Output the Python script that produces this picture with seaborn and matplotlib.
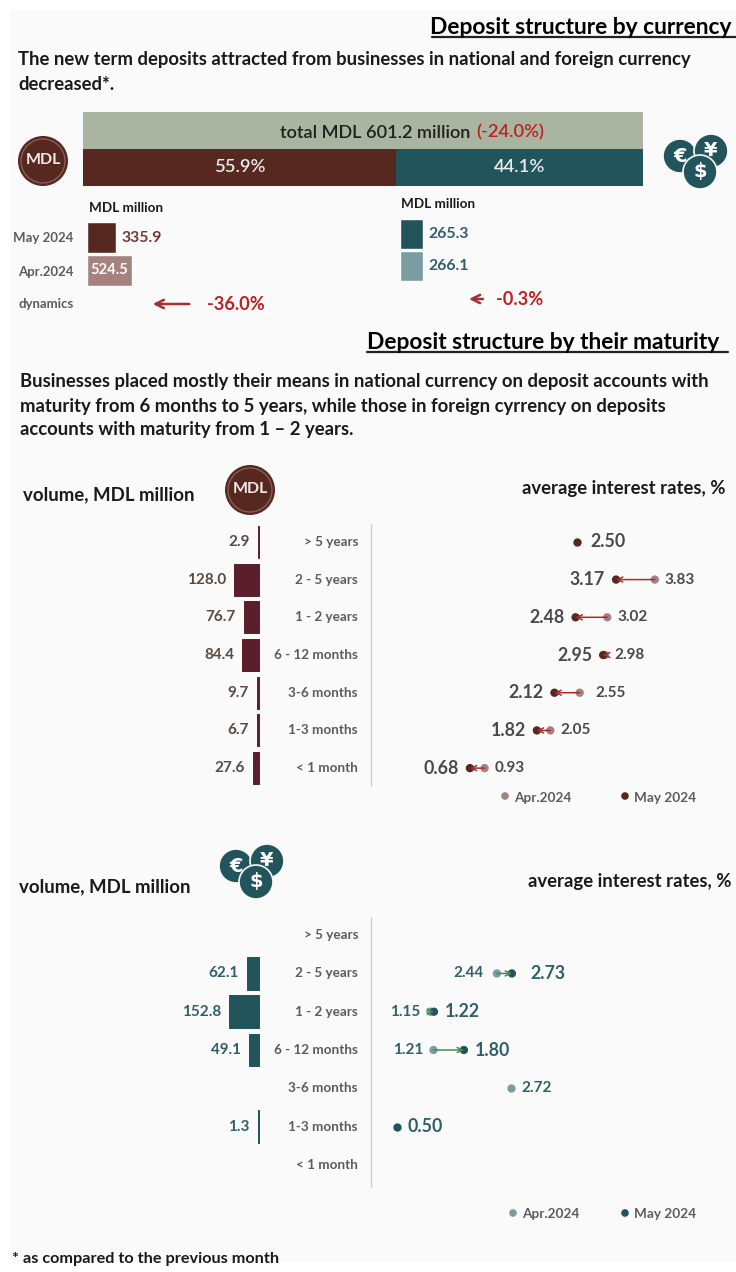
import numpy as np
import pandas as pd
import matplotlib
matplotlib.use("Agg")
import matplotlib.pyplot as plt
from matplotlib.patches import Circle, Rectangle
import seaborn as sns

# ─── data ─────────────────────────────────────────────────────────────────────

maturities = ["> 5 years", "2 - 5 years", "1 - 2 years", "6 - 12 months",
              "3-6 months", "1-3 months", "< 1 month"]
months = ["Apr.2024", "May 2024"]

share_labels = ["MDL", "foreign"]
share_values = [55.9, 44.1]

mdl_totals = [335.9, 524.5]      # May, Apr
fx_totals = [265.3, 266.1]

mdl_volume = [2.9, 128.0, 76.7, 84.4, 9.7, 6.7, 27.6]
fx_volume = [np.nan, 62.1, 152.8, 49.1, np.nan, 1.3, np.nan]

mdl_rate_apr = [np.nan, 3.83, 3.02, 2.98, 2.55, 2.05, 0.93]
mdl_rate_may = [2.50, 3.17, 2.48, 2.95, 2.12, 1.82, 0.68]
fx_rate_apr = [np.nan, 2.44, 1.15, 1.21, 2.72, np.nan, np.nan]
fx_rate_may = [np.nan, 2.73, 1.22, 1.80, np.nan, 0.50, np.nan]

BROWN = "#56281f"
WINE = "#5a1f2a"
LIGHT_BROWN = "#a5827e"
TEAL = "#22545c"
LIGHT_TEAL = "#7b9ca1"
SAGE = "#a9b5a0"
RED = "#c0201f"
GREY = "#5c5c5c"
PAGE = "#fafafa"
W, H = 736, 1272

sns.set_theme(style="white")
plt.rcParams["font.family"] = ["Lato", "DejaVu Sans"]
plt.rcParams["font.weight"] = "bold"

fig = plt.figure(figsize=(W / 100, H / 100), dpi=100, facecolor="white")


def px_axes(x0, y0, x1, y1):
    """Transparent axes placed by its pixel box (y counted from the top)."""
    ax = fig.add_axes([x0 / W, 1 - y1 / H, (x1 - x0) / W, (y1 - y0) / H])
    ax.patch.set_alpha(0)
    return ax


page = px_axes(0, 0, W, H)
page.set_xlim(0, W)
page.set_ylim(H, 0)
page.axis("off")
page.add_patch(Rectangle((10, 10), 726, 1252, color=PAGE, lw=0))


def txt(x, y, s, size=13.3, color="#1a1a1a", ha="left", **kw):
    page.text(x, y + 1.5, s, fontsize=size, color=color, ha=ha, va="center", **kw)


def coin(x, y, r, label, color, size):
    page.add_patch(Circle((x, y), r, color=color, ec=PAGE, lw=1.2, zorder=3))
    page.text(x, y, label, color="white", fontsize=size, ha="center", va="center",
              zorder=4, family=["DejaVu Sans"], fontweight="bold")


def mdl_icon(x, y, r=25):
    page.add_patch(Circle((x, y), r, color=BROWN, lw=0, zorder=3))
    page.add_patch(Circle((x, y), r - 3, fill=False, ec="#8a625c", lw=0.9, zorder=3))
    page.text(x, y - 1, "MDL", color="#f1e9e6", fontsize=11.5, ha="center", va="center", zorder=4)


def fx_icon(x, y):
    coin(x - 20, y - 5, 17, "€", TEAL, 14)
    coin(x + 11, y - 10, 17, "¥", TEAL, 14)
    coin(x, y + 11, 17, "$", TEAL, 14)


# ─── headings and text ────────────────────────────────────────────────────────

txt(430, 26, "Deposit structure by currency", size=16.4, color="black")
page.plot([432, 736], [37, 37], color="#222222", lw=1.6)
txt(18, 58, "The new term deposits attracted from businesses in national and foreign currency")
txt(18, 83, "decreased*.")

txt(367, 341, "Deposit structure by their maturity", size=16.4, color="black")
page.plot([367, 728], [352, 352], color="#222222", lw=1.6)
txt(20, 380, "Businesses placed mostly their means in national currency on deposit accounts with")
txt(20, 405, "maturity from 6 months to 5 years, while those in foreign cyrrency on deposits")
txt(20, 428, "accounts with maturity from 1 – 2 years.")

txt(23, 493, "volume, MDL million", size=13.4)
txt(726, 487, "average interest rates, %", size=13.3, ha="right")
txt(19, 885, "volume, MDL million", size=13.4)
txt(731, 880, "average interest rates, %", size=13.3, ha="right")
txt(12, 1257, "* as compared to the previous month", size=11.7)

mdl_icon(43, 161)
mdl_icon(250, 490)
fx_icon(700, 161)
fx_icon(256, 871)

# ─── total bar ────────────────────────────────────────────────────────────────

page.add_patch(Rectangle((83, 112), 560, 37, color=SAGE, lw=0))
txt(280, 132, "total MDL 601.2 million", size=13.05, color="#1f1f1f", fontweight="semibold")
txt(476, 131, "(-24.0%)", size=13.2, color=RED, fontweight="semibold")

ax = px_axes(83, 149, 643, 186)
share = pd.DataFrame({"kind": share_labels, "pct": share_values})
share["left"] = share["pct"].cumsum().shift(fill_value=0)
for (_, row), col in zip(share.iterrows(), [BROWN, TEAL]):
    ax.barh(0, row["pct"], left=row["left"], height=1, color=col, lw=0)
    ax.text(row["left"] + row["pct"] / 2, 0, f"{row['pct']}%", color="#e8ecec", fontsize=13.3,
            ha="center", va="center", fontweight="semibold")
ax.set_xlim(0, 100)
ax.set_ylim(-0.5, 0.5)
ax.axis("off")

# ─── totals per currency ──────────────────────────────────────────────────────

txt(89, 206, "MDL million", size=9.7)
txt(401, 202, "MDL million", size=9.7)
txt(73, 236, "May 2024", size=9.5, color=GREY, ha="right")
txt(74, 270, "Apr.2024", size=9.5, color=GREY, ha="right")
txt(74, 302, "dynamics", size=9.5, color=GREY, ha="right")


def total_bars(box, values, colors, text_colors, inside):
    ax = px_axes(*box)
    df = pd.DataFrame({"month": months[::-1], "value": values})
    sns.barplot(data=df, y="month", x="value", hue="month", palette=colors, legend=False,
                width=0.92, ax=ax, saturation=1)
    ax.set_xlim(0, (box[2] - box[0]) / 0.0865)
    for i, v in enumerate(values):
        if inside[i]:
            ax.text(v / 2, i, f"{v}", color="white", fontsize=10.6, ha="center", va="center")
        else:
            ax.annotate(f"{v}", (v, i), xytext=(4, 0), textcoords="offset points",
                        color=text_colors, fontsize=11.4, va="center")
    ax.axis("off")


total_bars((87, 221, 247, 287), mdl_totals, [BROWN, LIGHT_BROWN], "#6e3a34", [False, True])
total_bars((400, 218, 560, 282), fx_totals, [TEAL, LIGHT_TEAL], "#2f5f68", [False, False])

page.annotate("", xy=(150, 304), xytext=(192, 304),
              arrowprops=dict(arrowstyle="->", color="#a33030", lw=1.8, mutation_scale=15))
txt(207, 303, "-36.0%", size=13.1, color=RED)
page.annotate("", xy=(469, 299), xytext=(483, 299),
              arrowprops=dict(arrowstyle="->", color="#a33030", lw=1.8, mutation_scale=15,
                              shrinkA=0, shrinkB=0))
txt(496, 298, "-0.3%", size=13.1, color=RED)


# ─── maturity panels ──────────────────────────────────────────────────────────

def volume_panel(y0, y1, volume, color, text_color):
    ax = px_axes(158.5, y0, 258.5, y1)
    df = pd.DataFrame({"maturity": maturities, "volume": volume})
    sns.barplot(data=df, y="maturity", x="volume", order=maturities, color=color, saturation=1,
                width=0.85, edgecolor=color, linewidth=0.7, ax=ax)
    ax.set_xlim(100 / 0.19, 0)
    for p in ax.patches:
        p.set_clip_on(False)  # thin bars sit right on the axes edge
    for i, v in enumerate(volume):
        if not np.isnan(v):
            ax.annotate(f"{v}", (v, i), xytext=(-6, 0), textcoords="offset points", ha="right",
                        va="center", color=text_color, fontsize=11)
    ax.axis("off")
    # category labels sit on the panel's own rows
    lab = px_axes(262, y0, 358, y1)
    lab.set_ylim(6.5, -0.5)
    lab.set_xlim(0, 1)
    for i, m in enumerate(maturities):
        lab.text(1, i, m, ha="right", va="center", fontsize=9.7, color=GREY)
    lab.axis("off")


def rate_panel(y0, y1, zero_x, px_per_unit, apr, may, colors, text_color, arrow_color,
               may_side, apr_side, wider={}):
    ax = px_axes(372, y0, W, y1)
    df = pd.DataFrame({"maturity": maturities, "Apr.2024": apr, "May 2024": may})
    long = df.melt(id_vars="maturity", var_name="month", value_name="rate")
    sns.stripplot(data=long, x="rate", y="maturity", order=maturities, hue="month",
                  hue_order=months, palette=colors, jitter=False, size=6, legend=False,
                  ax=ax, zorder=3)
    ax.set_xlim((372 - zero_x) / px_per_unit, (W - zero_x) / px_per_unit)
    for i in range(len(maturities)):
        if not (np.isnan(apr[i]) or np.isnan(may[i])):
            ax.annotate("", xy=(may[i], i), xytext=(apr[i], i), zorder=4,
                        arrowprops=dict(arrowstyle="->", color=arrow_color, lw=1.1,
                                        shrinkA=0, shrinkB=0, mutation_scale=9))
        for val, side, fs, gap in ((apr[i], apr_side[i], 11, 7), (may[i], may_side[i], 12.8, 8)):
            if np.isnan(val):
                continue
            sign = 1 if side == "r" else -1
            gap += wider.get(val, 0)  # a few labels sit further out in the original
            ax.annotate(f"{val:.2f}", (val, i), xytext=(sign * gap, 0), textcoords="offset points",
                        ha="left" if side == "r" else "right", va="center",
                        fontsize=fs, color=text_color)
    ax.axis("off")


volume_panel(523, 787, mdl_volume, WINE, "#5a4a3f")
rate_panel(523, 787, 430, 58.7, mdl_rate_apr, mdl_rate_may, [LIGHT_BROWN, BROWN], "#4a4a4a",
           "#a33030", ["r", "l", "l", "l", "l", "l", "l"], ["r"] * 7, wider={2.55: 4, 2.50: 2})
page.plot([371, 371], [524, 786], color="#cfcfcf", lw=1)

volume_panel(916, 1184, fx_volume, TEAL, "#2f5f68")
rate_panel(916, 1184, 371, 51.6, fx_rate_apr, fx_rate_may, [LIGHT_TEAL, TEAL], "#2f5f68",
           "#4a8a50", ["r"] * 7, ["l", "l", "l", "l", "r", "l", "l"], wider={2.73: 5, 2.44: 3})
page.plot([371, 371], [917, 1187], color="#cfcfcf", lw=1)

# ─── legends ──────────────────────────────────────────────────────────────────

for y, x_apr, col_apr, col_may in ((796, 505, LIGHT_BROWN, BROWN), (1213, 513, LIGHT_TEAL, TEAL)):
    page.scatter([x_apr, 625], [y, y], c=[col_apr, col_may], s=30, lw=0)
    txt(x_apr + 9, y, months[0], size=9.8, color=GREY)
    txt(634, y, months[1], size=9.8, color=GREY)

fig.savefig("out.png", dpi=100, facecolor="white")
